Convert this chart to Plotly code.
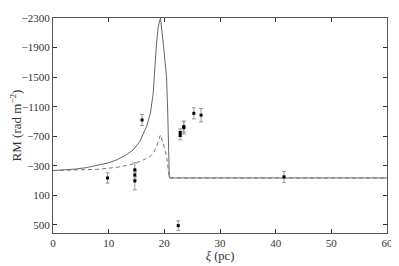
import plotly.graph_objects as go

# Solid model curve
xi_solid = [0, 2, 4, 6, 8.4, 10, 11.4, 13, 14.4, 15.6, 16.8, 17.5, 18.0, 18.3, 18.6, 18.9, 19.3, 19.8, 20.4, 20.6, 20.8, 20.9, 30, 40, 50, 60]
rm_solid = [-235, -240, -255, -275, -311, -340, -379, -440, -514, -630, -830, -1010, -1280, -1640, -1958, -2180, -2300, -1960, -1500, -1055, -610, -135, -135, -135, -135, -135]

# Dashed model curve
xi_dash = [0, 4, 8.4, 12, 14.4, 16, 17.4, 18.1, 18.6, 19.3, 19.8, 20.4, 20.9, 30, 40, 50, 60]
rm_dash = [-235, -240, -253, -285, -325, -370, -424, -480, -560, -717, -605, -424, -135, -135, -135, -135, -135]

# Observed points
xi_pts = [9.8, 14.7, 14.7, 14.7, 16.0, 22.5, 22.85, 22.85, 23.5, 23.5, 25.3, 26.6, 41.5]
rm_pts = [-135, -245, -175, -95, -920, 510, -750, -710, -830, -815, -1010, -985, -150]
rm_err = [70, 95, 60, 120, 75, 65, 50, 60, 75, 85, 75, 90, 75]

y_tickvals = [-2300, -1900, -1500, -1100, -700, -300, 100, 500]
y_ticktext = ["\u22122300", "\u22121900", "\u22121500", "\u22121100", "\u2212700", "\u2212300", "100", "500"]
x_tickvals = [0, 10, 20, 30, 40, 50, 60]

font = "Liberation Serif, DejaVu Serif, serif"

fig = go.Figure()
fig.add_trace(go.Scatter(x=xi_solid, y=rm_solid, mode="lines",
                         line=dict(color="#666666", width=1), showlegend=False))
fig.add_trace(go.Scatter(x=xi_dash, y=rm_dash, mode="lines",
                         line=dict(color="#777777", width=1, dash="4px,3px"), showlegend=False))
fig.add_trace(go.Scatter(x=xi_pts, y=rm_pts, mode="markers",
                         marker=dict(color="black", size=3, symbol="square"),
                         error_y=dict(type="data", array=rm_err, color="#999999", thickness=1, width=2),
                         showlegend=False))

# page body has an 8px default margin; size figure to fit the 399x266 window
fig.update_layout(
    width=391, height=258,
    margin=dict(l=45, r=12, t=10, b=33),
    paper_bgcolor="white", plot_bgcolor="white",
    font=dict(family=font, size=11, color="#333333"),
)
fig.update_xaxes(range=[0, 60], tickvals=x_tickvals, ticks="inside", ticklen=4,
                 showline=True, linecolor="#555555", linewidth=1, mirror="ticks",
                 showgrid=False, zeroline=False, tickcolor="#333333", automargin=False,
                 title=dict(text="<i>ξ</i> (pc)", standoff=3, font=dict(size=12.5)))
fig.update_yaxes(range=[610, -2300], tickvals=y_tickvals, ticktext=y_ticktext,
                 ticks="inside", ticklen=4, automargin=False,
                 showline=True, linecolor="#555555", linewidth=1, mirror="ticks",
                 showgrid=False, zeroline=False, tickcolor="#333333",
                 title=dict(text="RM (rad m<sup>\u22122</sup>)", standoff=3, font=dict(size=13)))

fig.write_html("out.html")
